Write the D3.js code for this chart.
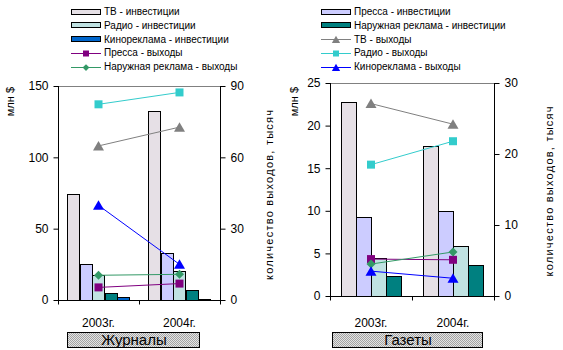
<!DOCTYPE html>
<html>
<head>
<meta charset="utf-8">
<script src="https://cdn.jsdelivr.net/npm/d3@7"></script>
<style>
  body { margin: 0; background: #fff; }
  svg text { font-family: "Liberation Sans", Arial, sans-serif; fill: #000; }
</style>
</head>
<body>
<div id="chart"></div>
<script>
// chart size
const width = 563, height = 350;

// categories
const years = ["2003г.", "2004г."];

// magazines (Журналы): investments, mln $ (left axis), order: ТВ, Пресса, Радио, Наружная, Кино
const magInvest2003 = [74, 25, 17.5, 4.7, 1.9];
const magInvest2004 = [132.5, 32.7, 20.3, 6.8, 0.5];
// magazines: outputs, thousands (right axis)
const magOutTV = [64.8, 72.7];
const magOutRadio = [82.3, 87.3];
const magOutCinema = [39.8, 15];
const magOutOutdoor = [10.4, 10.8];
const magOutPress = [5.3, 6.9];

// newspapers (Газеты): investments, order: ТВ, Пресса, Радио, Наружная
const newsInvest2003 = [22.8, 9.3, 4.5, 2.3];
const newsInvest2004 = [17.6, 9.95, 5.9, 3.6];
// newspapers: outputs
const newsOutTV = [27.1, 24.2];
const newsOutRadio = [18.5, 21.8];
const newsOutPress = [5.2, 5.1];
const newsOutOutdoor = [4.5, 6.2];
const newsOutCinema = [3.5, 2.5];

// series styles
const barColors = ["#E6E0E6", "#CCCCFF", "#C0E2E2", "#008080", "#0066CC"];
const lineStyles = {
    tv:      { color: "#808080", marker: "triangle" },
    radio:   { color: "#33CCCC", marker: "square" },
    cinema:  { color: "#0000FF", marker: "triangle" },
    outdoor: { color: "#339966", marker: "diamond" },
    press:   { color: "#800080", marker: "square" }
};

const svg = d3.select("#chart").append("svg")
    .attr("width", width)
    .attr("height", height);

// checkered fill for the group label boxes
const pat = svg.append("defs").append("pattern")
    .attr("id", "dots")
    .attr("width", 2).attr("height", 2)
    .attr("patternUnits", "userSpaceOnUse");
pat.append("rect").attr("width", 2).attr("height", 2).attr("fill", "#e4e4e4");
pat.append("rect").attr("width", 1).attr("height", 1).attr("fill", "#a4a4a4");
pat.append("rect").attr("x", 1).attr("y", 1).attr("width", 1).attr("height", 1).attr("fill", "#a4a4a4");

// marker shapes
function markerPath(type) {
    if (type === "square") return "M-4,-4H4V4H-4Z";
    if (type === "diamond") return "M0,-4.5L4.5,0L0,4.5L-4.5,0Z";
    return "M0,-5L5.5,4.5H-5.5Z";
}

function drawPanel(cfg) {
    const g = svg.append("g");
    const x = d3.scaleBand().domain(years).range([cfg.x0, cfg.x1]);
    const yL = d3.scaleLinear().domain([0, cfg.maxL]).range([cfg.y1, cfg.y0]);
    const yR = d3.scaleLinear().domain([0, cfg.maxR]).range([cfg.y1, cfg.y0]);

    // top border of plot area
    g.append("line")
        .attr("x1", cfg.x0).attr("x2", cfg.x1)
        .attr("y1", cfg.y0 + 0.5).attr("y2", cfg.y0 + 0.5)
        .attr("stroke", "#808080");

    // bars
    const inner = d3.scaleBand()
        .domain(d3.range(cfg.invest[0].length))
        .range([0, x.bandwidth()])
        .paddingOuter(cfg.outerPad);
    years.forEach((yr, i) => {
        g.append("g").selectAll("rect")
            .data(cfg.invest[i])
            .join("rect")
            .attr("x", (d, j) => Math.round(x(yr) + inner(j)) + 0.5)
            .attr("y", d => Math.round(yL(d)) + 0.5)
            .attr("width", Math.round(inner.bandwidth()))
            .attr("height", d => Math.max(0, Math.round(yL(0)) - Math.round(yL(d))))
            .attr("fill", (d, j) => barColors[j])
            .attr("stroke", "#000")
            .attr("stroke-width", 1);
    });

    // lines with markers
    cfg.lines.forEach(s => {
        const st = lineStyles[s.key];
        const line = d3.line()
            .x((d, i) => x(years[i]) + x.bandwidth() / 2)
            .y(d => yR(d));
        g.append("path")
            .datum(s.values)
            .attr("d", line)
            .attr("fill", "none")
            .attr("stroke", st.color)
            .attr("stroke-width", 1);
        g.append("g").selectAll("path")
            .data(s.values)
            .join("path")
            .attr("transform", (d, i) => `translate(${x(years[i]) + x.bandwidth() / 2},${yR(d)})`)
            .attr("d", markerPath(st.marker))
            .attr("fill", st.color);
    });

    // axes
    const axL = g.append("g")
        .attr("transform", `translate(${cfg.x0 + 0.5},0)`)
        .call(d3.axisLeft(yL).tickValues(cfg.ticksL).tickSize(5).tickPadding(5));
    const axR = g.append("g")
        .attr("transform", `translate(${cfg.x1 + 0.5},0)`)
        .call(d3.axisRight(yR).tickValues(cfg.ticksR).tickSize(5).tickPadding(5));
    [axL, axR].forEach(a => {
        a.select(".domain").attr("d", `M0,${cfg.y0}V${cfg.y1}`);
        a.selectAll("text").style("font-size", "12px").attr("font-family", "Liberation Sans, Arial");
    });
    const axB = g.append("g")
        .attr("transform", `translate(0,${cfg.y1 + 0.5})`);
    axB.append("line")
        .attr("x1", cfg.x0).attr("x2", cfg.x1 + 1)
        .attr("stroke", "#000");
    axB.selectAll("line.tick")
        .data([cfg.x0, x(years[1]), cfg.x1])
        .join("line")
        .attr("class", "tick")
        .attr("x1", d => Math.round(d) + 0.5).attr("x2", d => Math.round(d) + 0.5)
        .attr("y1", 0).attr("y2", 4)
        .attr("stroke", "#000");
    g.selectAll("text.cat")
        .data(years)
        .join("text")
        .attr("class", "cat")
        .attr("x", d => x(d) + x.bandwidth() / 2)
        .attr("y", 327)
        .attr("text-anchor", "middle")
        .style("font-size", "12px")
        .text(d => d);

    // axis titles
    g.append("text")
        .attr("transform", `translate(${cfg.titleLx},87) rotate(-90)`)
        .attr("text-anchor", "end")
        .style("font-size", "11px")
        .text("млн $");
    g.append("text")
        .attr("transform", `translate(${cfg.titleRx},${(cfg.y0 + cfg.y1) / 2 + 2}) rotate(-90)`)
        .attr("text-anchor", "middle")
        .attr("textLength", 170)
        .attr("lengthAdjust", "spacing")
        .style("font-size", "11px")
        .text("количество выходов, тысяч");

    // group label box
    g.append("rect")
        .attr("x", cfg.box[0] + 0.5).attr("y", 332.5)
        .attr("width", cfg.box[1] - cfg.box[0]).attr("height", 15)
        .attr("fill", "url(#dots)")
        .attr("stroke", "#000");
    g.append("text")
        .attr("x", (cfg.box[0] + cfg.box[1]) / 2 + 1)
        .attr("y", 345)
        .attr("text-anchor", "middle")
        .style("font-size", "15px")
        .text(cfg.label);

    // legend
    const lg = g.append("g").attr("transform", `translate(${cfg.legX},0)`);
    cfg.legend.forEach((item, i) => {
        const cy = 11.5 + i * 13.8;
        if (item.bar !== undefined) {
            lg.append("rect")
                .attr("x", 0.5).attr("y", Math.round(cy - 3) + 0.5)
                .attr("width", 29).attr("height", 5)
                .attr("fill", barColors[item.bar])
                .attr("stroke", "#000");
        } else {
            const st = lineStyles[item.line];
            lg.append("line")
                .attr("x1", 0).attr("x2", 30)
                .attr("y1", Math.round(cy) + 0.5).attr("y2", Math.round(cy) + 0.5)
                .attr("stroke", st.color);
            lg.append("path")
                .attr("transform", `translate(15,${Math.round(cy) + 0.5}) scale(0.75)`)
                .attr("d", markerPath(st.marker))
                .attr("fill", st.color);
        }
        lg.append("text")
            .attr("x", 33)
            .attr("y", cy + 3.5)
            .style("font-size", "10px")
            .text(item.name);
    });
}

drawPanel({
    label: "Журналы",
    x0: 58, x1: 220, y0: 86, y1: 300,
    maxL: 150, maxR: 90,
    ticksL: [0, 50, 100, 150], ticksR: [0, 30, 60, 90],
    invest: [magInvest2003, magInvest2004],
    outerPad: 0.75,
    lines: [
        { key: "tv", values: magOutTV },
        { key: "radio", values: magOutRadio },
        { key: "cinema", values: magOutCinema },
        { key: "outdoor", values: magOutOutdoor },
        { key: "press", values: magOutPress }
    ],
    titleLx: 14, titleRx: 273,
    box: [67, 199],
    legX: 71,
    legend: [
        { name: "ТВ - инвестиции", bar: 0 },
        { name: "Радио - инвестиции", bar: 2 },
        { name: "Кинореклама - инвестиции", bar: 4 },
        { name: "Пресса - выходы", line: "press" },
        { name: "Наружная реклама - выходы", line: "outdoor" }
    ]
});

drawPanel({
    label: "Газеты",
    x0: 330, x1: 494, y0: 83, y1: 296,
    maxL: 25, maxR: 30,
    ticksL: [0, 5, 10, 15, 20, 25], ticksR: [0, 10, 20, 30],
    invest: [newsInvest2003, newsInvest2004],
    outerPad: 0.77,
    lines: [
        { key: "tv", values: newsOutTV },
        { key: "radio", values: newsOutRadio },
        { key: "press", values: newsOutPress },
        { key: "outdoor", values: newsOutOutdoor },
        { key: "cinema", values: newsOutCinema }
    ],
    titleLx: 298, titleRx: 553,
    box: [332, 482],
    legX: 321,
    legend: [
        { name: "Пресса - инвестиции", bar: 1 },
        { name: "Наружная реклама - инвестиции", bar: 3 },
        { name: "ТВ - выходы", line: "tv" },
        { name: "Радио - выходы", line: "radio" },
        { name: "Кинореклама - выходы", line: "cinema" }
    ]
});
</script>
</body>
</html>
